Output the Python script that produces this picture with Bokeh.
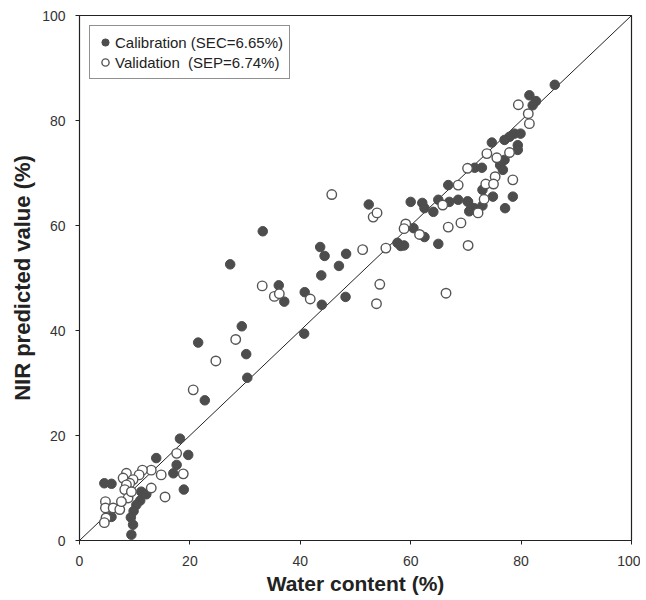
from bokeh.plotting import figure
from bokeh.models import FixedTicker, Range1d
from bokeh.embed import file_html
from bokeh.resources import INLINE

# Calibration set (water content %, NIR predicted %)
cal_x = [86.1, 81.5, 82.7, 82.1, 78.8, 79.9, 77.9, 77.0, 79.4, 79.4, 74.7, 77.0, 76.2, 76.7,
         71.6, 72.9, 73.0, 74.9, 78.5, 70.3, 71.5, 73.0, 77.1, 66.8, 60.0, 62.1, 62.5, 64.1,
         65.0, 67.0, 68.6, 70.4, 70.6, 60.5, 62.5, 65.0, 57.6, 58.2, 58.8, 52.4,
         33.2, 27.3, 43.6, 44.4, 48.3, 47.0, 43.8, 36.1, 37.1, 40.8, 43.9, 48.2, 29.4, 21.5,
         30.2, 40.7, 30.4, 22.7,
         18.2, 19.7, 13.9, 17.6, 17.0, 4.5, 5.8, 18.9, 11.2, 12.1, 11.0, 10.3, 9.8, 9.3,
         9.7, 9.4, 5.8]
cal_y = [86.8, 84.8, 83.7, 82.9, 77.5, 77.5, 76.9, 76.3, 75.3, 74.4, 75.8, 72.5, 71.5, 70.6,
         71.0, 71.0, 66.8, 65.5, 65.5, 64.6, 63.3, 63.8, 63.3, 67.7, 64.5, 64.3, 63.3, 62.6,
         64.9, 64.5, 64.9, 64.5, 62.7, 59.5, 57.8, 56.5, 56.7, 56.1, 56.2, 64.0,
         58.9, 52.6, 55.9, 54.2, 54.6, 52.3, 50.5, 48.6, 45.5, 47.3, 44.9, 46.4, 40.8, 37.7,
         35.5, 39.4, 31.0, 26.7,
         19.4, 16.3, 15.7, 14.4, 12.8, 10.9, 10.8, 9.7, 9.3, 8.8, 7.6, 6.8, 5.6, 4.4,
         3.0, 1.1, 4.5]

# Validation set
val_x = [79.5, 81.3, 81.5, 73.8, 75.6, 77.9, 70.3, 75.3, 73.6, 75.0, 78.5, 73.3, 68.6,
         65.8, 72.2, 66.8, 69.1, 59.1, 58.8, 61.6, 70.4, 55.5, 51.3, 54.4, 53.8, 66.4,
         45.7, 53.2, 53.9, 33.1, 35.3, 36.2, 41.8, 28.3, 24.7, 20.6,
         17.6, 18.8, 14.8, 13.0, 11.4, 10.8, 8.5, 7.9, 9.7, 9.1, 13.0, 15.5, 8.5, 8.2,
         8.8, 9.4, 4.7, 4.7, 4.8, 4.5, 6.1, 7.3, 7.6]
val_y = [83.0, 81.3, 79.4, 73.7, 72.9, 73.9, 70.9, 69.3, 67.9, 67.9, 68.7, 65.0, 67.7,
         63.9, 62.4, 59.7, 60.5, 60.3, 59.4, 58.3, 56.2, 55.7, 55.4, 48.8, 45.1, 47.1,
         65.9, 61.6, 62.4, 48.5, 46.5, 47.0, 46.0, 38.3, 34.2, 28.7,
         16.6, 12.7, 12.5, 13.4, 13.4, 12.5, 12.8, 11.9, 11.6, 10.9, 10.0, 8.3, 10.6, 9.7,
         8.1, 9.3, 7.4, 6.2, 4.3, 3.4, 6.2, 5.9, 7.4]

line_x = [0, 100]
line_y = [0, 100]
ticks = [0, 20, 40, 60, 80, 100]

p = figure(width=640, height=600, output_backend="svg", toolbar_location=None,
           x_range=Range1d(0, 100), y_range=Range1d(0, 100),
           min_border_left=79, min_border_right=9, min_border_top=15, min_border_bottom=60)

p.line(line_x, line_y, line_color="#222222", line_width=1)
p.scatter(cal_x, cal_y, size=9.5, fill_color="#4d4d4d", line_color="#4d4d4d",
          legend_label="Calibration (SEC=6.65%)")
p.scatter(val_x, val_y, size=9.5, fill_color="white", line_color="#555555", line_width=1.4,
          legend_label="Validation  (SEP=6.74%)")

p.grid.visible = False
p.outline_line_color = "#222222"
p.outline_line_width = 1.2
p.background_fill_color = "white"

for ax in (p.xaxis[0], p.yaxis[0]):
    ax.ticker = FixedTicker(ticks=ticks)
    ax.minor_tick_line_color = None
    ax.major_tick_in = 0
    ax.major_tick_out = 4
    ax.axis_line_color = "#222222"
    ax.major_tick_line_color = "#222222"
    ax.major_label_text_font = "Liberation Sans"
    ax.major_label_text_font_size = "14px"
    ax.major_label_text_color = "#333333"
    ax.axis_label_text_font = "Liberation Sans"
    ax.axis_label_text_font_style = "bold"
    ax.axis_label_text_color = "#222222"

p.xaxis.axis_label = "Water content (%)"
p.yaxis.axis_label = "NIR predicted value (%)"
p.xaxis.axis_label_text_font_size = "21px"
p.yaxis.axis_label_text_font_size = "22px"
p.xaxis.major_label_standoff = 11
p.xaxis.axis_label_standoff = 3
p.yaxis.major_label_standoff = 10
p.yaxis.axis_label_standoff = 4

lg = p.legend[0]
lg.location = "top_left"
lg.margin = 10
lg.padding = 6
lg.spacing = 0
lg.label_height = 20
lg.glyph_width = 18
lg.label_standoff = 1
lg.label_text_font = "Liberation Sans"
lg.label_text_font_size = "15px"
lg.label_text_color = "#222222"
lg.border_line_color = "#222222"
lg.border_line_width = 1
lg.background_fill_color = "white"
lg.background_fill_alpha = 1

open("out.html", "w").write(file_html(p, INLINE))
